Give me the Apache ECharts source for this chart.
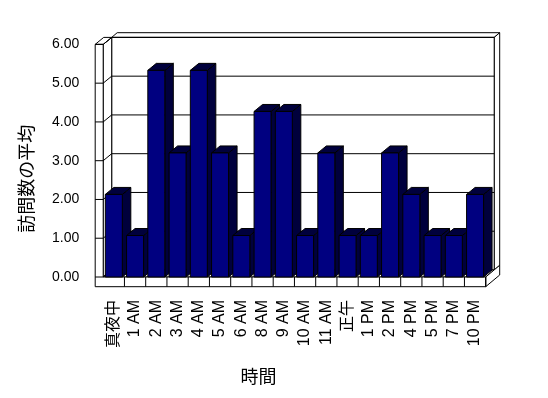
<!DOCTYPE html>
<html>
<head>
<meta charset="utf-8">
<script src="https://cdn.jsdelivr.net/npm/echarts@6/dist/echarts.min.js"></script>
<style>
html,body{margin:0;padding:0;background:#fff;}
#chart{width:548px;height:398px;}
</style>
</head>
<body>
<div id="chart"></div>
<script>
// ---- data ----
const categories = ['真夜中','1 AM','2 AM','3 AM','4 AM','5 AM','6 AM','8 AM','9 AM','10 AM','11 AM','正午','1 PM','2 PM','4 PM','5 PM','7 PM','10 PM'];
const visits = [2.13,1.07,5.33,3.2,5.33,3.2,1.07,4.27,4.27,1.07,3.2,1.07,1.07,3.2,2.13,1.07,1.07,2.13];
const yTicks = [0,1,2,3,4,5,6];
const xTitle = '時間';
const yTitle = '訪問数の平均';

// ---- 3D style constants ----
const DX = 8.5, DY = 7;          // depth of plot
const WALL = 8;                  // left wall thickness
const FLOOR = 9.7;               // floor thickness
const BX = 5.5, BY = 4.7;        // back wall thickness
const NAVY = '#000080';
const SHADE = '#00003c';
const FONT = '"Liberation Sans", Arial, "Noto Sans CJK JP", sans-serif';

function poly(points, fill) {
  return {type: 'polygon', shape: {points: points}, style: {fill: fill, stroke: '#000', lineWidth: 1}};
}
function seg(x1,y1,x2,y2){
  return {type: 'line', shape: {x1:x1,y1:y1,x2:x2,y2:y2}, style: {stroke:'#000', lineWidth:1}};
}

function renderWalls(params, api) {
  const band = api.size([1, 0])[0];
  const n = categories.length;
  const L = api.coord([0, 0])[0] - band / 2;
  const R = api.coord([n - 1, 0])[0] + band / 2;
  const T = api.coord([0, yTicks[yTicks.length - 1]])[1];
  const B = api.coord([0, 0])[1];
  const ch = [];
  ch.push(poly([[L+DX, T-DY],[R+DX, T-DY],[R+DX+BX, T-DY-BY],[L+DX+BX, T-DY-BY]], '#fff'));
  ch.push(poly([[R+DX, T-DY],[R+DX+BX, T-DY-BY],[R+DX+BX, B-DY-BY],[R+DX, B-DY]], '#fff'));
  ch.push(poly([[L+DX, T-DY],[R+DX, T-DY],[R+DX, B-DY],[L+DX, B-DY]], '#fff'));
  ch.push(poly([[L, T],[L+DX, T-DY],[L+DX, B-DY],[L, B]], '#fff'));
  ch.push(poly([[L-WALL, T],[L, T],[L+DX, T-DY],[L-WALL+DX, T-DY]], '#fff'));
  ch.push(poly([[L, B],[R, B],[R+DX, B-DY],[L+DX, B-DY]], '#fff'));
  ch.push(poly([[R, B],[R+DX+BX, B-DY-BY],[R+DX+BX, B-DY-BY+FLOOR],[R, B+FLOOR]], '#fff'));
  ch.push(poly([[L-WALL, T],[L, T],[L, B],[R, B],[R, B+FLOOR],[L-WALL, B+FLOOR]], '#fff'));
  for (let i = 0; i < n; i++) {
    const x = api.coord([i, 0])[0] + band / 2;
    ch.push(seg(x, B, x, B + FLOOR));
  }
  yTicks.forEach(function (v) {
    const y = api.coord([0, v])[1];
    ch.push(seg(L - WALL, y, L, y));
    ch.push(seg(L, y, L + DX, y - DY));
    if (v !== 0) ch.push(seg(L + DX, y - DY, R + DX, y - DY));
  });
  return {type: 'group', children: ch};
}

function renderBar(params, api) {
  const idx = api.value(0);
  const val = api.value(1);
  const top = api.coord([idx, val]);
  const base = api.coord([idx, 0]);
  const band = api.size([1, 0])[0];
  const w = band * 0.8;
  const x0 = top[0] - w / 2, x1 = x0 + w;
  const yT = top[1], yB = base[1];
  return {
    type: 'group',
    children: [
      poly([[x1, yT],[x1+DX, yT-DY],[x1+DX, yB-DY],[x1, yB]], SHADE),
      poly([[x0, yT],[x1, yT],[x1+DX, yT-DY],[x0+DX, yT-DY]], SHADE),
      poly([[x0, yT],[x1, yT],[x1, yB],[x0, yB]], NAVY)
    ]
  };
}

const chart = echarts.init(document.getElementById('chart'), null, {renderer: 'canvas'});
chart.setOption({
  backgroundColor: '#fff',
  animation: false,
  grid: {left: 103.2, right: 62.3, top: 44.4, bottom: 121},
  xAxis: {
    type: 'category',
    data: categories,
    axisLine: {show: false},
    axisTick: {show: false},
    axisLabel: {rotate: 90, margin: 23, fontSize: 16, color: '#000', fontFamily: FONT, interval: 0},
    name: xTitle,
    nameLocation: 'middle',
    nameGap: 92,
    nameTextStyle: {fontSize: 18, color: '#000', fontFamily: FONT, padding: [0, 72, 0, 0]}
  },
  yAxis: {
    type: 'value',
    min: yTicks[0],
    max: yTicks[yTicks.length - 1],
    interval: 1,
    axisLine: {show: false},
    axisTick: {show: false},
    splitLine: {show: false},
    axisLabel: {margin: 24, fontSize: 14, color: '#000', fontFamily: FONT, formatter: function (v) { return v.toFixed(2); }},
    name: yTitle,
    nameLocation: 'middle',
    nameRotate: 90,
    nameGap: 66,
    nameTextStyle: {fontSize: 18, color: '#000', fontFamily: FONT, padding: [0, 36, 0, 0]}
  },
  series: [
    {type: 'custom', silent: true, z: 1, renderItem: renderWalls, data: [[0, 0]]},
    {type: 'custom', silent: true, z: 2, renderItem: renderBar,
     data: visits.map(function (v, i) { return [i, v]; })}
  ]
});
</script>
</body>
</html>
